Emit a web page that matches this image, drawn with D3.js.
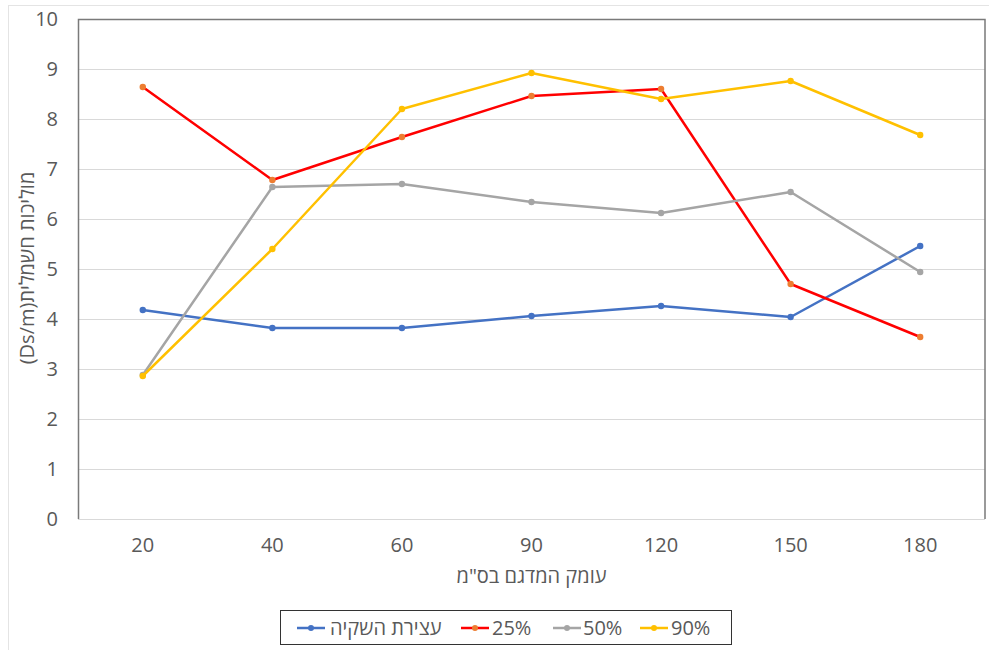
<!DOCTYPE html>
<html>
<head>
<meta charset="utf-8">
<script src="https://cdn.jsdelivr.net/npm/d3@7"></script>
<style>
  html, body { margin: 0; padding: 0; background: #fff; }
  svg { display: block; font-family: "Open Sans", "Noto Sans", sans-serif; }
</style>
</head>
<body>
<svg id="chart" width="989" height="650"></svg>
<script>
// Sampling depth (cm)
const depths = ["20", "40", "60", "90", "120", "150", "180"];
const yTicks = [0, 1, 2, 3, 4, 5, 6, 7, 8, 9, 10];

// Electrical conductivity (Ds/m) per treatment
const stopIrrigation = [4.18, 3.82, 3.82, 4.06, 4.26, 4.04, 5.46];
const pct25 = [8.64, 6.78, 7.64, 8.46, 8.60, 4.70, 3.64];
const pct50 = [2.88, 6.64, 6.70, 6.34, 6.12, 6.54, 4.94];
const pct90 = [2.86, 5.40, 8.20, 8.92, 8.40, 8.76, 7.68];

const seriesNames = ["עצירת השקיה", "25%", "50%", "90%"];
const seriesValues = [stopIrrigation, pct25, pct50, pct90];
const lineColors = ["#4472C4", "#FF0000", "#A5A5A5", "#FFC000"];
const markerColors = ["#4472C4", "#ED7D31", "#A5A5A5", "#FFC000"];

const svg = d3.select("#chart");
const W = 989, H = 650;
const plot = { left: 78, right: 985, top: 19, bottom: 519 };
const textColor = "#595959";
const fontSize = "20px";

// Outer frame
svg.append("rect")
  .attr("x", 8.5).attr("y", 5.5).attr("width", W + 10).attr("height", H + 10)
  .attr("fill", "none").attr("stroke", "#e4e4e4").attr("stroke-width", 1);

const x = d3.scaleBand().domain(depths).range([plot.left, plot.right]);
const y = d3.scaleLinear().domain([0, 10]).range([plot.bottom, plot.top]);

// Horizontal gridlines
svg.append("g")
  .selectAll("line")
  .data(yTicks.filter(t => t > 0 && t < 10))
  .join("line")
  .attr("x1", plot.left).attr("x2", plot.right)
  .attr("y1", d => Math.round(y(d)) + 0.5).attr("y2", d => Math.round(y(d)) + 0.5)
  .attr("stroke", "#d9d9d9").attr("stroke-width", 1);

// Plot-area frame: dark on left/top/right, light along the category axis
svg.append("path")
  .attr("d", `M${plot.left + 0.5},${plot.bottom}V${plot.top + 0.5}H${plot.right}V${plot.bottom}`)
  .attr("fill", "none").attr("stroke", "#7a7a7a").attr("stroke-width", 1.5);
svg.append("line")
  .attr("x1", plot.left).attr("x2", plot.right)
  .attr("y1", plot.bottom + 0.5).attr("y2", plot.bottom + 0.5)
  .attr("stroke", "#d9d9d9").attr("stroke-width", 1);

// Y axis tick labels
const yAxis = d3.axisLeft(y).tickValues(yTicks).tickSize(0).tickPadding(0).tickFormat(d3.format("d"));
const gy = svg.append("g").attr("transform", `translate(${plot.left - 20},0)`).call(yAxis);
gy.select(".domain").remove();
gy.selectAll("text").attr("fill", textColor).style("font-size", fontSize)
  .style("font-family", "'Open Sans', sans-serif");

// X axis tick labels
const xAxis = d3.axisBottom(x).tickSize(0).tickPadding(0);
const gx = svg.append("g").attr("transform", `translate(0,${plot.bottom + 19})`).call(xAxis);
gx.select(".domain").remove();
gx.selectAll("text").attr("fill", textColor).style("font-size", fontSize)
  .style("font-family", "'Open Sans', sans-serif");

// Axis titles
svg.append("text")
  .attr("x", (plot.left + plot.right) / 2).attr("y", 583)
  .attr("text-anchor", "middle").attr("fill", textColor)
  .style("font-size", fontSize)
  .text("עומק המדגם בס\"מ");

svg.append("text")
  .attr("transform", "translate(34,268) rotate(-90)")
  .attr("text-anchor", "middle").attr("fill", textColor)
  .style("font-size", fontSize)
  .text("(Ds/m)מוליכות חשמלית");

// Series lines and markers
const line = d3.line().x((d, i) => x(depths[i]) + x.bandwidth() / 2).y(d => y(d));
seriesValues.forEach((vals, s) => {
  const g = svg.append("g");
  g.append("path").datum(vals)
    .attr("d", line).attr("fill", "none")
    .attr("stroke", lineColors[s]).attr("stroke-width", 2.5)
    .attr("stroke-linejoin", "round").attr("stroke-linecap", "round");
  g.selectAll("circle").data(vals).join("circle")
    .attr("cx", (d, i) => x(depths[i]) + x.bandwidth() / 2)
    .attr("cy", d => y(d))
    .attr("r", 3.2)
    .attr("fill", markerColors[s]);
});

// Legend
const legend = svg.append("g");
legend.append("rect")
  .attr("x", 280.5).attr("y", 610.5).attr("width", 451).attr("height", 34)
  .attr("fill", "#fff").attr("stroke", "#333").attr("stroke-width", 1);
const legendItems = [
  { x: 297, tx: 330 },
  { x: 461, tx: 492 },
  { x: 553, tx: 583 },
  { x: 640, tx: 671 }
];
legendItems.forEach((it, s) => {
  const cy = 628;
  legend.append("line")
    .attr("x1", it.x).attr("x2", it.x + 28).attr("y1", cy).attr("y2", cy)
    .attr("stroke", lineColors[s]).attr("stroke-width", 2.5);
  legend.append("circle").attr("cx", it.x + 14).attr("cy", cy).attr("r", 3)
    .attr("fill", markerColors[s]);
  legend.append("text")
    .attr("x", it.tx).attr("y", cy + 7)
    .attr("fill", textColor).style("font-size", fontSize)
    .text(seriesNames[s]);
});
</script>
</body>
</html>
